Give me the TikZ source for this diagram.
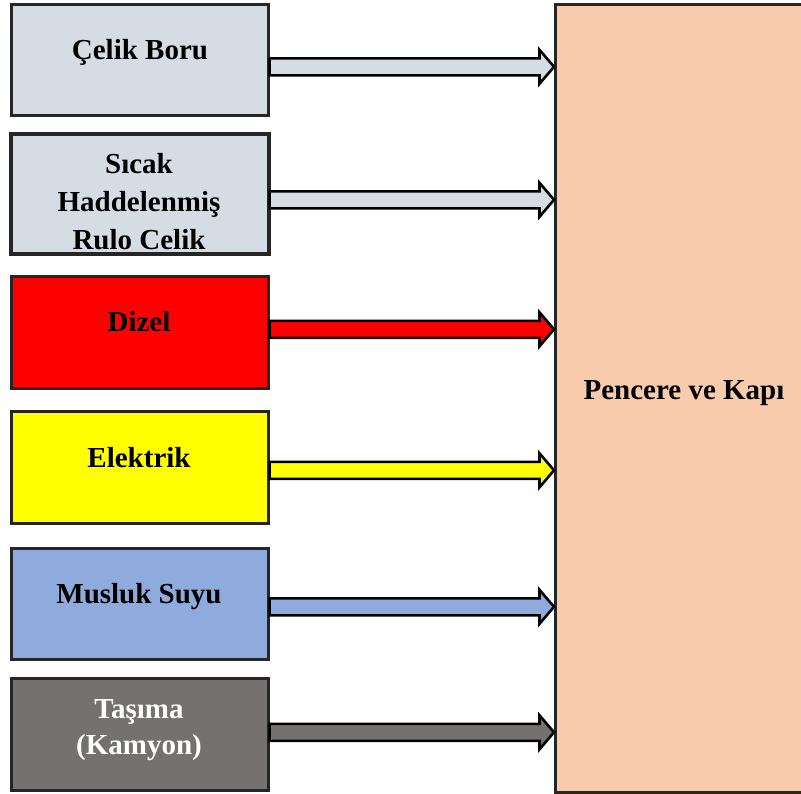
\documentclass[tikz,border=0pt]{standalone}
\usepackage{fontspec}
\setmainfont{Liberation Serif}
\usetikzlibrary{calc}
\definecolor{steelgray}{HTML}{D6DCE4}
\definecolor{dieselred}{HTML}{FF0000}
\definecolor{powerylw}{HTML}{FFFF00}
\definecolor{waterblue}{HTML}{8FAADC}
\definecolor{truckgray}{HTML}{767171}
\definecolor{productpeach}{HTML}{F8CBAD}
\tikzset{
  inputbox/.style={draw=black!85, line width=2.6pt, rectangle, inner sep=0pt,
    minimum width=257pt},
  boxtext/.style={font=\bfseries\fontsize{29}{36}\selectfont, align=center, anchor=base, inner sep=0pt},
  fatarrow/.style={draw=black, line width=2.6pt, line join=miter, miter limit=10,
    to path={let \p1=(\tikztostart), \p2=(\tikztotarget) in
      (\x1,\y1+8.5pt) -- (\x2-14.5pt,\y1+8.5pt) -- (\x2-14.5pt,\y1+17pt) -- (\x2,\y1)
      -- (\x2-14.5pt,\y1-17pt) -- (\x2-14.5pt,\y1-8.5pt) -- (\x1,\y1-8.5pt) -- cycle}}
}
\begin{document}
\begin{tikzpicture}[x=1pt,y=-1pt]
\useasboundingbox (0,0) rectangle (801,793);

% target block, right side runs past the page edge
\node[draw=black!85, line width=2.6pt, fill=productpeach, rectangle, inner sep=0pt,
  minimum width=262pt, minimum height=788pt, anchor=north west] (big) at (554,3) {};
\node[boxtext] (tbig) at (684,399) {Pencere ve Kapı};

% input blocks
\node[inputbox, fill=steelgray, minimum height=111pt, anchor=north west] (b1) at (10,3) {};
\node[inputbox, fill=steelgray, minimum height=119pt, anchor=north west] (b2) at (10,133) {};
\node[inputbox, fill=dieselred, minimum height=112pt, anchor=north west] (b3) at (10,275) {};
\node[inputbox, fill=powerylw, minimum height=112pt, anchor=north west] (b4) at (10,410) {};
\node[inputbox, fill=waterblue, minimum height=111pt, anchor=north west] (b5) at (10,547) {};
\node[inputbox, fill=truckgray, minimum height=112pt, anchor=north west] (b6) at (10,677) {};

% labels (multi-line nodes sit on the baseline of their last line)
\node[boxtext] (t1) at (140,59) {Çelik Boru};
\begin{scope}
  \clip (b2.north west) rectangle (b2.south east);
  \node[boxtext, font=\bfseries\fontsize{29}{38}\selectfont] (t2) at (139,249) {Sıcak\\Haddelenmiş\\Rulo Celik};
\end{scope}
\draw[draw=black!85, line width=2.6pt] (b2.north west) rectangle (b2.south east);
\node[boxtext] (t3) at (139,331) {Dizel};
\node[boxtext] (t4) at (139,467) {Elektrik};
\node[boxtext] (t5) at (139,603) {Musluk Suyu};
\node[boxtext, text=white] (t6) at (139,754) {Taşıma\\(Kamyon)};

% flows into the target block
\coordinate (s1) at ($(b1.east)+(0,7)$);
\coordinate (s2) at ($(b2.east)+(0,6)$);
\coordinate (s3) at ($(b3.east)+(0,-3)$);
\coordinate (s4) at ($(b4.east)+(0,3)$);
\coordinate (s5) at ($(b5.east)+(0,3)$);
\coordinate (s6) at ($(b6.east)+(0,-2)$);
\draw[fatarrow, fill=steelgray] (s1) to (s1 -| big.west);
\draw[fatarrow, fill=steelgray] (s2) to (s2 -| big.west);
\draw[fatarrow, fill=dieselred] (s3) to (s3 -| big.west);
\draw[fatarrow, fill=powerylw] (s4) to (s4 -| big.west);
\draw[fatarrow, fill=waterblue] (s5) to (s5 -| big.west);
\draw[fatarrow, fill=truckgray] (s6) to (s6 -| big.west);
\end{tikzpicture}
\end{document}
